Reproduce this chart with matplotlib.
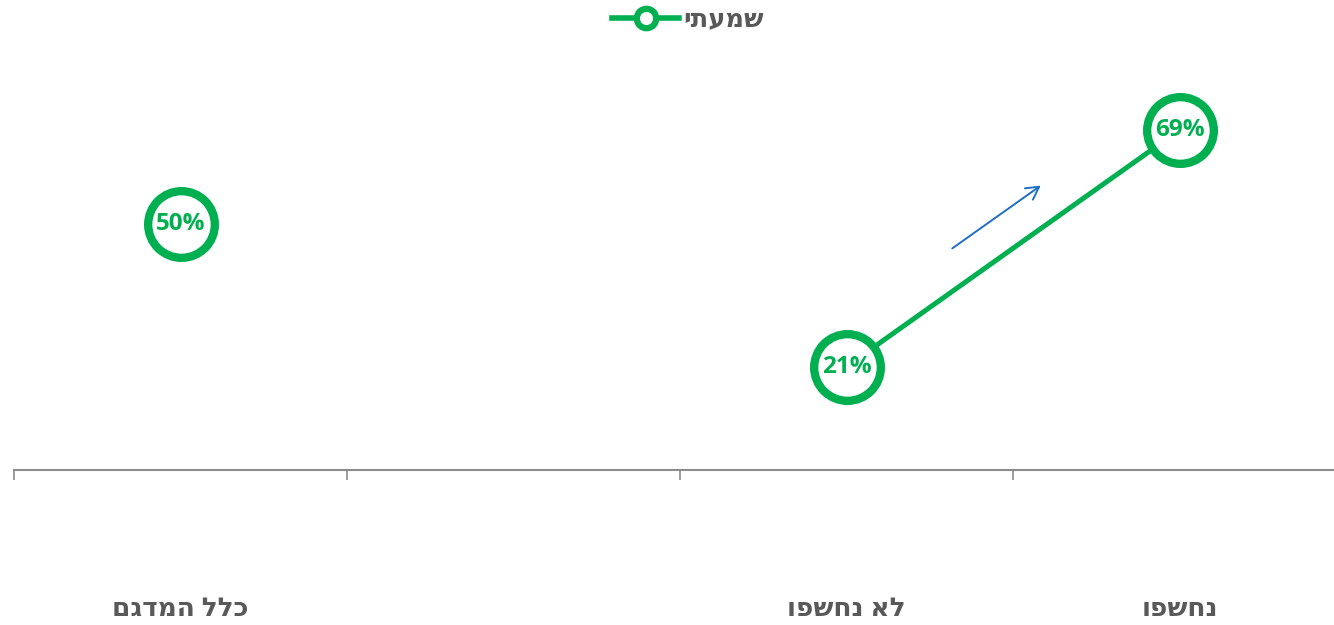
import numpy as np
import matplotlib
matplotlib.use("Agg")
import matplotlib.pyplot as plt
from matplotlib.lines import Line2D
from matplotlib.patches import FancyArrowPatch

plt.rcParams['font.family'] = ['Open Sans', 'DejaVu Sans']

categories = ["כלל המדגם", "", "לא נחשפו", "נחשפו"]
heard = [50, np.nan, 21, 69]
series_name = "שמעתי"

GREEN = "#00B050"
GRAY = "#595959"


def rtl(s):
    # matplotlib lays text out left-to-right; flip Hebrew strings for display
    return s[::-1]


fig = plt.figure(figsize=(13.34, 6.25), dpi=100, facecolor="white")
ax = fig.add_axes([14 / 1334, 155 / 625, 1 - 14 / 1334, 470 / 625])
ax.set_facecolor("white")

x = np.arange(len(categories))
ax.plot(x, heard, color=GREEN, lw=3.6, marker="o", markersize=48,
        markerfacecolor="white", markeredgecolor=GREEN, markeredgewidth=6,
        zorder=3)
for xi, v in zip(x, heard):
    if not np.isnan(v):
        ax.text(xi, v, f"{v:.0f}%", ha="center", va="center", color=GREEN,
                fontsize=17.5, fontweight="bold", zorder=4)

ax.set_yticks([])
for s in ("top", "right", "left"):
    ax.spines[s].set_visible(False)
ax.spines["bottom"].set_color("#8C8C8C")
ax.spines["bottom"].set_linewidth(1.5)
ax.set_xticks(np.arange(len(categories) + 1) - 0.5, minor=True)
ax.tick_params(axis="x", which="minor", length=7, width=1.2, color="#8C8C8C")
ax.tick_params(axis="x", which="major", length=0)
ax.set_xticks(x)
ax.set_xticklabels([rtl(c) for c in categories], fontsize=19,
                   fontweight="bold", color=GRAY)
ax.tick_params(axis="x", which="major", pad=90)
ax.set_xlim(-0.5, 3.5 - 12 / 333)
ax.set_ylim(0, 95.4)

# legend
handle = Line2D([], [], color=GREEN, lw=4, marker="o", markersize=14,
                markerfacecolor="white", markeredgecolor=GREEN,
                markeredgewidth=4.5)
leg = fig.legend([handle], [rtl(series_name)], loc="center",
                 bbox_to_anchor=(688 / 1334, 1 - 19 / 625), frameon=False,
                 prop={"size": 18.5, "weight": "bold"},
                 handlelength=2.6, handletextpad=0.15)
for t in leg.get_texts():
    t.set_color(GRAY)

# trend arrow
fig.add_artist(FancyArrowPatch(
    (950 / 1334, 1 - 250 / 625), (1043 / 1334, 1 - 184 / 625),
    transform=fig.transFigure, arrowstyle="->,head_length=9,head_width=5",
    color="#1F6FC5", lw=1.4, mutation_scale=1))

# faint decorative diagonal in the upper-right corner
fig.add_artist(Line2D([1040 / 1334, 1.0], [1.0, 1 - 160 / 625],
                      transform=fig.transFigure, color="#E4EAF4", lw=2.5,
                      zorder=0))

fig.savefig("out.png", dpi=100, facecolor="white")
